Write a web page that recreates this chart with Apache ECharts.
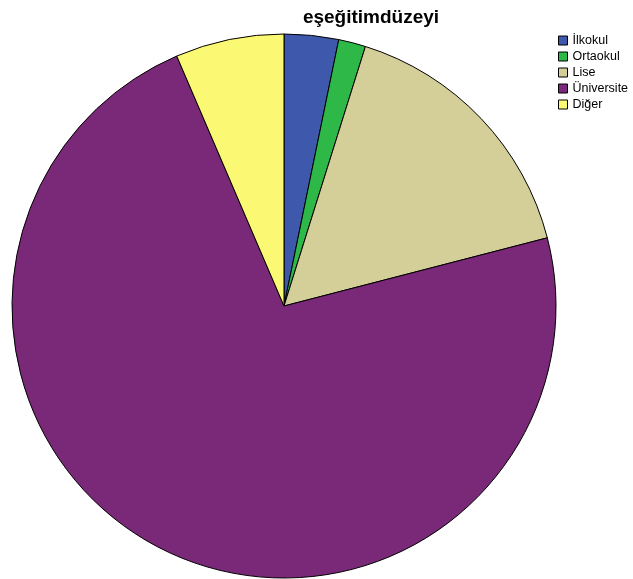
<!DOCTYPE html>
<html><head><meta charset="utf-8">
<script src="https://cdn.jsdelivr.net/npm/echarts@6/dist/echarts.min.js"></script>
<style>html,body{margin:0;padding:0;background:#fff}#c{width:633px;height:579px}</style>
</head><body><div id="c"></div>
<script>
const titleText = 'eşeğitimdüzeyi';
const categories = ['İlkokul', 'Ortaokul', 'Lise', 'Üniversite', 'Diğer'];
const values = [2, 1, 10, 45, 4];
const colors = ['#3E58AC', '#2EB848', '#D4CE98', '#7A2878', '#FBF873'];

const chart = echarts.init(document.getElementById('c'), null, {renderer: 'canvas'});
chart.setOption({
  animation: false,
  backgroundColor: '#ffffff',
  title: {
    text: titleText, left: 366, top: 3, textAlign: 'center',
    textStyle: {fontFamily: 'Liberation Sans, Arial, sans-serif', fontSize: 19, fontWeight: 'bold', color: '#000'}
  },
  legend: {
    orient: 'vertical', left: 553, top: 27.5, itemWidth: 9, itemHeight: 9, itemGap: 0,
    icon: 'rect', selectedMode: false,
    itemStyle: {borderColor: '#000', borderWidth: 1},
    textStyle: {fontFamily: 'Liberation Sans, Arial, sans-serif', fontSize: 12.5, color: '#000', lineHeight: 16},
    data: categories
  },
  series: [{
    type: 'pie', center: [284, 306], radius: 272, startAngle: 90, clockwise: true,
    label: {show: false}, labelLine: {show: false}, emphasis: {disabled: true},
    itemStyle: {borderColor: '#000', borderWidth: 1},
    data: categories.map((c, i) => ({name: c, value: values[i], itemStyle: {color: colors[i]}}))
  }]
});
</script></body></html>
